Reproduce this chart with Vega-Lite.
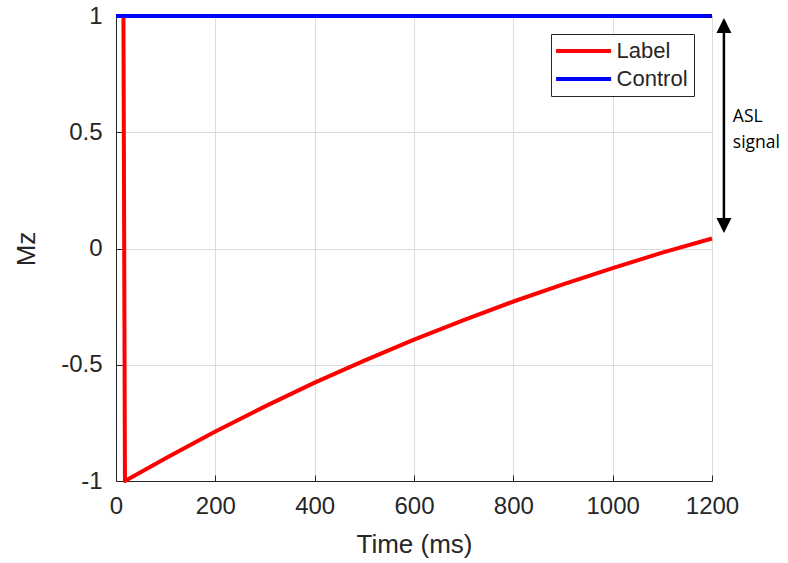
{
  "$schema": "https://vega.github.io/schema/vega-lite/v6.json",
  "width": 596,
  "height": 465,
  "autosize": "none",
  "padding": {"left": 116, "top": 16, "right": 76, "bottom": 82},
  "background": "white",
  "config": {
    "view": {"stroke": "#262626", "strokeWidth": 1},
    "font": "Liberation Sans",
    "axis": {
      "labelFont": "Liberation Sans",
      "titleFont": "Liberation Sans",
      "labelFontSize": 24,
      "titleFontSize": 26,
      "labelColor": "#262626",
      "titleColor": "#262626",
      "titleFontWeight": "normal",
      "domainColor": "#262626",
      "tickColor": "#262626",
      "tickSize": -6,
      "labelFlush": false,
      "gridColor": "#dcdcdc",
      "gridWidth": 1
    }
  },
  "datasets": {
    "curves": [
      {"series": "Label", "o": 0, "t": 0, "mz": 1},
      {"series": "Label", "o": 1, "t": 15, "mz": 1},
      {"series": "Label", "o": 2, "t": 18, "mz": -1},
      {"series": "Label", "o": 3, "t": 100, "mz": -0.902},
      {"series": "Label", "o": 4, "t": 200, "mz": -0.787},
      {"series": "Label", "o": 5, "t": 300, "mz": -0.679},
      {"series": "Label", "o": 6, "t": 400, "mz": -0.577},
      {"series": "Label", "o": 7, "t": 500, "mz": -0.482},
      {"series": "Label", "o": 8, "t": 600, "mz": -0.392},
      {"series": "Label", "o": 9, "t": 700, "mz": -0.308},
      {"series": "Label", "o": 10, "t": 800, "mz": -0.228},
      {"series": "Label", "o": 11, "t": 900, "mz": -0.154},
      {"series": "Label", "o": 12, "t": 1000, "mz": -0.084},
      {"series": "Label", "o": 13, "t": 1100, "mz": -0.018},
      {"series": "Label", "o": 14, "t": 1200, "mz": 0.043},
      {"series": "Control", "o": 0, "t": 0, "mz": 1},
      {"series": "Control", "o": 1, "t": 1200, "mz": 1}
    ],
    "arrow": [{"t": 1224, "y1": 0.08, "y2": 0.98}],
    "heads": [
      {"t": 1224, "mz": 0.959, "dir": "up"},
      {"t": 1224, "mz": 0.099, "dir": "down"}
    ],
    "notes": [
      {"t": 1242, "mz": 0.566, "text": "ASL"},
      {"t": 1242, "mz": 0.452, "text": "signal"}
    ]
  },
  "layer": [
    {
      "data": {"name": "curves"},
      "mark": {"type": "line", "strokeWidth": 4, "strokeJoin": "round"},
      "encoding": {
        "x": {
          "field": "t", "type": "quantitative",
          "scale": {"domain": [0, 1200], "nice": false, "zero": false},
          "axis": {"values": [0, 200, 400, 600, 800, 1000, 1200], "title": "Time (ms)", "titlePadding": 13, "labelPadding": 19, "grid": true, "labelExpr": "toString(datum.value)"}
        },
        "y": {
          "field": "mz", "type": "quantitative",
          "scale": {"domain": [-1, 1], "nice": false},
          "axis": {"values": [-1, -0.5, 0, 0.5, 1], "title": "Mz", "titlePadding": 21, "labelPadding": 20, "grid": true, "labelExpr": "toString(datum.value)"}
        },
        "color": {
          "field": "series", "type": "nominal",
          "scale": {"domain": ["Label", "Control"], "range": ["#ff0000", "#0000ff"]},
          "legend": {
            "title": null,
            "orient": "none",
            "legendX": 435,
            "legendY": 18,
            "strokeColor": "#262626",
            "fillColor": "white",
            "padding": 6,
            "symbolType": "M-4,0L4,0",
            "symbolStrokeWidth": 4,
            "symbolSize": 189,
            "symbolOffset": 15.6,
            "labelFont": "Liberation Sans",
            "labelFontSize": 22,
            "labelColor": "#262626",
            "labelOffset": 22,
            "rowPadding": 6
          }
        },
        "order": {"field": "o", "type": "quantitative"}
      }
    },
    {
      "data": {"name": "arrow"},
      "mark": {"type": "rule", "strokeWidth": 2.5, "color": "black"},
      "encoding": {
        "x": {"field": "t", "type": "quantitative"},
        "y": {"field": "y1", "type": "quantitative"},
        "y2": {"field": "y2"}
      }
    },
    {
      "data": {"name": "heads"},
      "mark": {"type": "point", "filled": true, "color": "black", "size": 225, "opacity": 1, "strokeWidth": 0},
      "encoding": {
        "x": {"field": "t", "type": "quantitative"},
        "y": {"field": "mz", "type": "quantitative"},
        "shape": {"field": "dir", "type": "nominal", "scale": {"domain": ["up", "down"], "range": ["M-1,1L0,-1L1,1Z", "M-1,-1L0,1L1,-1Z"]}, "legend": null}
      }
    },
    {
      "data": {"name": "notes"},
      "mark": {"type": "text", "align": "left", "baseline": "middle", "font": "Open Sans", "fontSize": 17.5, "color": "black"},
      "encoding": {
        "x": {"field": "t", "type": "quantitative"},
        "y": {"field": "mz", "type": "quantitative"},
        "text": {"field": "text"}
      }
    }
  ]
}
